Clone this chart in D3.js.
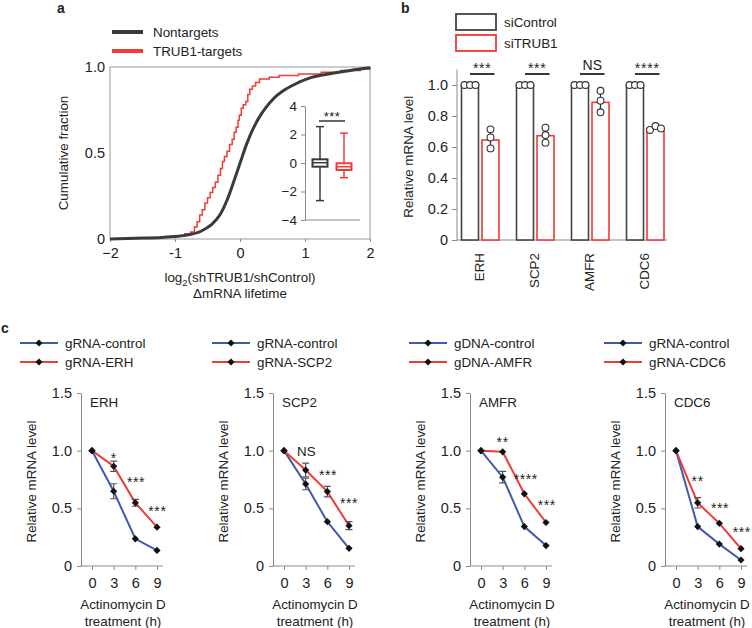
<!DOCTYPE html>
<html><head><meta charset="utf-8">
<script src="https://cdn.jsdelivr.net/npm/d3@7"></script>
<style>
body{margin:0;background:#fff;}
svg{display:block;font-family:"Liberation Sans",Arial,Helvetica,sans-serif;}
text{fill:#222;}
</style></head><body>
<svg id="c" width="752" height="628"></svg>
<script>
// ---------- Panel a data ----------
const aXTicks = [-2, -1, 0, 1, 2];
const aXTickLabels = ["\u22122", "-1", "0", "1", "2"];
const aYTicks = [0, 0.5, 1];
const aYTickLabels = ["0", "0.5", "1.0"];
const nontargetCDF = [[-2,0],[-1.6,0.004],[-1.2,0.009],[-1,0.014],[-0.8,0.024],[-0.6,0.045],[-0.45,0.08],[-0.3,0.145],[-0.2,0.225],[-0.1,0.33],[0,0.44],[0.1,0.55],[0.2,0.64],[0.3,0.71],[0.4,0.765],[0.5,0.81],[0.7,0.87],[0.9,0.91],[1.1,0.94],[1.4,0.962],[1.7,0.98],[2,0.995]];
const trub1CDF = [[-0.96,0.02],[-0.85,0.03],[-0.76,0.04],[-0.70,0.07],[-0.66,0.10],[-0.62,0.14],[-0.58,0.17],[-0.54,0.21],[-0.50,0.24],[-0.46,0.27],[-0.42,0.30],[-0.38,0.33],[-0.34,0.37],[-0.30,0.41],[-0.27,0.45],[-0.24,0.48],[-0.20,0.51],[-0.16,0.55],[-0.12,0.58],[-0.09,0.62],[-0.06,0.65],[-0.03,0.69],[-0.01,0.72],[0.02,0.76],[0.05,0.78],[0.09,0.80],[0.12,0.84],[0.15,0.87],[0.19,0.89],[0.24,0.91],[0.30,0.93],[0.45,0.94],[0.60,0.95],[0.90,0.96],[1.25,0.97],[1.55,0.98],[1.85,0.99],[2.0,1.0]];
const aLegend = ["Nontargets", "TRUB1-targets"];
const insetTicks = [-4, -2, 0, 2, 4];
const insetTickLabels = ["\u22124", "\u22122", "0", "2", "4"];
const insetBoxes = [
  {name:"Nontargets", lo:-2.64, q1:-0.26, med:0.02, q3:0.26, hi:2.55},
  {name:"TRUB1-targets", lo:-1.03, q1:-0.49, med:-0.26, q3:-0.02, hi:2.1}
];
const insetSig = "***";

// ---------- Panel b data ----------
const bGenes = ["ERH", "SCP2", "AMFR", "CDC6"];
const bConds = ["siControl", "siTRUB1"];
const bCtrlMean = [1, 1, 1, 1];
const bTrubMean = [0.645, 0.673, 0.888, 0.72];
const bCtrlReps = [[1,1,1],[1,1,1],[1,1,1],[1,1,1]];
const bTrubReps = [[0.714,0.662,0.591],[0.725,0.677,0.628],[0.963,0.899,0.824],[0.71,0.735,0.72]];
const bSig = ["***", "***", "NS", "****"];
const bYTicks = [0, 0.2, 0.4, 0.6, 0.8, 1.0];
const bYTickLabels = ["0", "0.2", "0.4", "0.6", "0.8", "1.0"];

// ---------- Panel c data ----------
const cGenes = ["ERH", "SCP2", "AMFR", "CDC6"];
const cTimes = [0, 3, 6, 9];
const cLegends = [["gRNA-control","gRNA-ERH"],["gRNA-control","gRNA-SCP2"],["gDNA-control","gDNA-AMFR"],["gRNA-control","gRNA-CDC6"]];
const cCtrl = [[1,0.648,0.236,0.135],[1,0.711,0.384,0.153],[1,0.77,0.342,0.177],[1,0.342,0.19,0.052]];
const cKD   = [[1,0.865,0.548,0.337],[1,0.832,0.645,0.35],[1,0.99,0.626,0.377],[1,0.548,0.37,0.15]];
const cCtrlErr = [[0,0.065,0.012,0.01],[0,0.05,0.012,0.01],[0,0.05,0.012,0.01],[0,0.012,0.012,0.01]];
const cKDErr   = [[0,0.045,0.03,0.012],[0,0.06,0.045,0.035],[0,0.012,0.012,0.012],[0,0.045,0.012,0.012]];
const cSig = [
  [[3,0.95,"*"],[6.1,0.74,"***"],[9.05,0.49,"***"]],
  [[3.1,1.0,"NS"],[6.1,0.80,"***"],[9,0.56,"***"]],
  [[3,1.09,"**"],[6.2,0.77,"****"],[9.1,0.54,"***"]],
  [[3,0.75,"**"],[6.1,0.52,"***"],[9.1,0.31,"***"]]
];
const cYTicks = [0, 0.5, 1.0, 1.5];
const cYTickLabels = ["0", "0.5", "1.0", "1.5"];

// ---------- styles ----------
const RED = "#ee3b36", DARK = "#3a3a3a", AX = "#8a8a8a", BLUE = "#3f5bab";
const FS = 13.4, TFS = 14.5;

const svg = d3.select("#c");

function styleAxis(g){
  g.selectAll(".domain").attr("stroke", AX);
  g.selectAll(".tick line").attr("stroke", AX);
  g.selectAll(".tick text").attr("fill", "#222").style("font-size", TFS + "px").style("font-family", "inherit");
}

// ================= Panel a =================
(function(){
  const x = d3.scaleLinear().domain([-2, 2]).range([110, 370]);
  const y = d3.scaleLinear().domain([0, 1]).range([239, 67]);
  const g = svg.append("g");
  g.append("text").attr("x", 57).attr("y", 13).text("a").style("font-weight", "bold").style("font-size", "14px");
  // frame
  g.append("rect").attr("x", x(-2)).attr("y", y(1)).attr("width", x(2) - x(-2)).attr("height", y(0) - y(1))
    .attr("fill", "none").attr("stroke", "#9a9a9a").attr("stroke-width", 1);
  const xa = g.append("g").attr("transform", `translate(0,${y(0)})`)
    .call(d3.axisBottom(x).tickValues(aXTicks).tickFormat((d, i) => aXTickLabels[i]).tickSize(3).tickPadding(6));
  xa.select(".domain").remove(); styleAxis(xa);
  const ya = g.append("g").attr("transform", `translate(${x(-2)},0)`)
    .call(d3.axisLeft(y).tickValues(aYTicks).tickFormat((d, i) => aYTickLabels[i]).tickSize(0).tickPadding(5));
  ya.select(".domain").remove(); styleAxis(ya);
  // curves
  const line = d3.line().x(d => x(d[0])).y(d => y(d[1]));
  g.append("path").datum(trub1CDF).attr("d", line.curve(d3.curveStepAfter)).attr("fill", "none").attr("stroke", RED).attr("stroke-width", 1.5);
  g.append("path").datum(nontargetCDF).attr("d", d3.line().x(d => x(d[0])).y(d => y(d[1])).curve(d3.curveMonotoneX))
    .attr("fill", "none").attr("stroke", DARK).attr("stroke-width", 3);
  // labels
  g.append("text").attr("transform", `translate(68,${(y(0) + y(1)) / 2}) rotate(-90)`).attr("text-anchor", "middle")
    .style("font-size", FS + "px").text("Cumulative fraction");
  const xl = g.append("text").attr("x", 240).attr("y", 282).attr("text-anchor", "middle").style("font-size", FS + "px");
  xl.append("tspan").text("log");
  xl.append("tspan").text("2").attr("dy", 4).style("font-size", "9.5px");
  xl.append("tspan").text("(shTRUB1/shControl)").attr("dy", -4);
  g.append("text").attr("x", 240).attr("y", 298).attr("text-anchor", "middle").style("font-size", FS + "px").text("\u0394mRNA lifetime");
  // legend
  const lc = [DARK, RED];
  aLegend.forEach((t, i) => {
    const yy = 32 + i * 19;
    g.append("line").attr("x1", 112).attr("x2", 143).attr("y1", yy).attr("y2", yy).attr("stroke", lc[i]).attr("stroke-width", 4);
    g.append("text").attr("x", 153).attr("y", yy + 5).style("font-size", FS + "px").text(t);
  });
  // inset
  const yi = d3.scaleLinear().domain([-4, 4]).range([220, 106]);
  const xi = d3.scalePoint().domain(insetBoxes.map(d => d.name)).range([320, 344]);
  const yia = g.append("g").attr("transform", "translate(305,0)")
    .call(d3.axisLeft(yi).tickValues(insetTicks).tickFormat((d, i) => insetTickLabels[i]).tickSize(4).tickPadding(4).tickSizeOuter(0));
  styleAxis(yia);
  yia.selectAll(".tick text").style("font-size", "13.5px");
  g.append("line").attr("x1", 305).attr("x2", 360).attr("y1", yi(-4)).attr("y2", yi(-4)).attr("stroke", AX);
  const bc = [DARK, RED];
  insetBoxes.forEach((b, i) => {
    const cx = xi(b.name), col = bc[i];
    const gg = g.append("g").attr("stroke", col).attr("fill", "none").attr("stroke-width", 1.5);
    gg.append("line").attr("x1", cx).attr("x2", cx).attr("y1", yi(b.hi)).attr("y2", yi(b.q3));
    gg.append("line").attr("x1", cx).attr("x2", cx).attr("y1", yi(b.q1)).attr("y2", yi(b.lo));
    gg.append("line").attr("x1", cx - 4).attr("x2", cx + 4).attr("y1", yi(b.hi)).attr("y2", yi(b.hi));
    gg.append("line").attr("x1", cx - 4).attr("x2", cx + 4).attr("y1", yi(b.lo)).attr("y2", yi(b.lo));
    gg.append("rect").attr("x", cx - 7.5).attr("width", 15).attr("y", yi(b.q3)).attr("height", yi(b.q1) - yi(b.q3)).attr("fill", "#fff").attr("stroke-width", 2);
    gg.append("line").attr("x1", cx - 7.5).attr("x2", cx + 7.5).attr("y1", yi(b.med)).attr("y2", yi(b.med)).attr("stroke-width", 1.5);
  });
  g.append("line").attr("x1", 319).attr("x2", 345).attr("y1", 121).attr("y2", 121).attr("stroke", "#333").attr("stroke-width", 1.5);
  g.append("text").attr("x", 332).attr("y", 121).attr("text-anchor", "middle").style("font-size", "13px").style("letter-spacing", "0.5px").text(insetSig);
})();

// ================= Panel b =================
(function(){
  const g = svg.append("g");
  g.append("text").attr("x", 401).attr("y", 13).text("b").style("font-weight", "bold").style("font-size", "14px");
  const y = d3.scaleLinear().domain([0, 1]).range([240, 85]);
  const x0 = d3.scaleBand().domain(bGenes).range([452.5, 672.5]);
  const x1 = d3.scalePoint().domain(bConds).range([-10, 10.5]);
  const bw = 17;
  // y axis
  const ya = g.append("g").attr("transform", "translate(457,0)")
    .call(d3.axisLeft(y).tickValues(bYTicks).tickFormat((d, i) => bYTickLabels[i]).tickSize(5).tickPadding(4).tickSizeOuter(0));
  styleAxis(ya);
  ya.select(".domain").attr("d", `M0,${y(0)}V${y(1.1)}`);
  g.append("line").attr("x1", 457).attr("x2", 667).attr("y1", y(0)).attr("y2", y(0)).attr("stroke", AX);
  g.append("text").attr("transform", `translate(413,${(y(0) + y(1.1)) / 2 + 2}) rotate(-90)`).attr("text-anchor", "middle")
    .style("font-size", FS + "px").text("Relative mRNA level");
  const means = [bCtrlMean, bTrubMean], reps = [bCtrlReps, bTrubReps], cols = ["#444", RED];
  bGenes.forEach((gene, gi) => {
    const gc = x0(gene) + x0.bandwidth() / 2;
    bConds.forEach((cond, ci) => {
      const cx = gc + x1(cond);
      const m = means[ci][gi];
      g.append("rect").attr("x", cx - bw / 2).attr("width", bw).attr("y", y(m)).attr("height", y(0) - y(m))
        .attr("fill", "#fff").attr("stroke", cols[ci]).attr("stroke-width", 1.6);
    });
  });
  bGenes.forEach((gene, gi) => {
    const gc = x0(gene) + x0.bandwidth() / 2;
    bConds.forEach((cond, ci) => {
      const cx = gc + x1(cond);
      const r = reps[ci][gi];
      const py = r.map(v => y(v));
      const spread = d3.max(py) - d3.min(py) < 7;
      if (!spread) {
        g.append("line").attr("x1", cx).attr("x2", cx).attr("y1", d3.min(py)).attr("y2", d3.max(py)).attr("stroke", "#333").attr("stroke-width", 1.3);
      }
      r.forEach((v, k) => {
        const dx = spread ? (k - 1) * 5.5 : 0;
        g.append("circle").attr("cx", cx + dx).attr("cy", y(v)).attr("r", 3.4)
          .attr("fill", "#fff").attr("stroke", "#333").attr("stroke-width", 1.1);
      });
    });
    // significance
    const xa = gc + x1("siControl"), xb = gc + x1("siTRUB1") + 4;
    g.append("line").attr("x1", xa).attr("x2", xb).attr("y1", 74).attr("y2", 74).attr("stroke", "#222").attr("stroke-width", 1.8);
    const s = bSig[gi];
    if (s === "NS") {
      g.append("text").attr("x", (xa + xb) / 2).attr("y", 70).attr("text-anchor", "middle").style("font-size", "14px").text(s);
    } else {
      g.append("text").attr("x", (xa + xb) / 2).attr("y", 73).attr("text-anchor", "middle").style("font-size", "14px").style("letter-spacing", "0.8px").text(s);
    }
    // category label
    g.append("text").attr("transform", `translate(${gc + 4},253) rotate(-90)`).attr("text-anchor", "end")
      .style("font-size", FS + "px").text(gene);
  });
  // legend
  bConds.forEach((c, i) => {
    const yy = 14 + i * 21;
    g.append("rect").attr("x", 456).attr("y", yy).attr("width", 40).attr("height", 16).attr("fill", "#fff")
      .attr("stroke", cols[i]).attr("stroke-width", 1.8);
    g.append("text").attr("x", 504).attr("y", yy + 13).style("font-size", FS + "px").text(c);
  });
})();

// ================= Panel c =================
(function(){
  const g = svg.append("g");
  g.append("text").attr("x", 1).attr("y", 333).text("c").style("font-weight", "bold").style("font-size", "14px");
  const origins = [81, 273, 470, 665];
  const diamond = d3.symbol().type(d3.symbolSquare).size(26);
  cGenes.forEach((gene, gi) => {
    const ox = origins[gi];
    const x = d3.scaleLinear().domain([0, 9]).range([ox + 11, ox + 76]);
    const y = d3.scaleLinear().domain([0, 1.5]).range([566, 393]);
    const sg = g.append("g");
    const ya = sg.append("g").attr("transform", `translate(${ox},0)`)
      .call(d3.axisLeft(y).tickValues(cYTicks).tickFormat((d, i) => cYTickLabels[i]).tickSize(4).tickPadding(5).tickSizeOuter(0));
    styleAxis(ya);
    const xa = sg.append("g").attr("transform", `translate(0,${y(0)})`)
      .call(d3.axisBottom(x).tickValues(cTimes).tickSize(4).tickPadding(8).tickSizeOuter(0));
    styleAxis(xa);
    xa.select(".domain").attr("d", `M${ox},0H${ox + 82}`);
    // axis labels
    sg.append("text").attr("transform", `translate(${ox - 45},${(y(0) + y(1.5)) / 2 + 2}) rotate(-90)`).attr("text-anchor", "middle")
      .style("font-size", FS + "px").text("Relative mRNA level");
    sg.append("text").attr("x", ox + 42).attr("y", 609).attr("text-anchor", "middle").style("font-size", FS + "px").text("Actinomycin D");
    sg.append("text").attr("x", ox + 42).attr("y", 626).attr("text-anchor", "middle").style("font-size", FS + "px").text("treatment (h)");
    sg.append("text").attr("x", ox + 9).attr("y", 407).style("font-size", FS + "px").text(gene);
    // lines
    const line = d3.line().x((d, i) => x(cTimes[i])).y(d => y(d));
    const series = [[cCtrl[gi], cCtrlErr[gi], BLUE], [cKD[gi], cKDErr[gi], RED]];
    series.forEach(([vals, errs, col]) => {
      sg.append("path").datum(vals).attr("d", line).attr("fill", "none").attr("stroke", col).attr("stroke-width", 2);
    });
    series.forEach(([vals, errs, col]) => {
      vals.forEach((v, i) => {
        const e = errs[i];
        if (e > 0.015) {
          const xx = x(cTimes[i]);
          sg.append("path").attr("d", `M${xx},${y(v + e)}V${y(v - e)}M${xx - 3.5},${y(v + e)}H${xx + 3.5}M${xx - 3.5},${y(v - e)}H${xx + 3.5}`)
            .attr("stroke", "#555").attr("stroke-width", 1.2).attr("fill", "none");
        }
      });
    });
    series.forEach(([vals]) => {
      vals.forEach((v, i) => {
        sg.append("path").attr("d", diamond).attr("transform", `translate(${x(cTimes[i])},${y(v)}) rotate(45)`).attr("fill", "#111");
      });
    });
    // significance
    cSig[gi].forEach(([t, v, s]) => {
      if (s === "NS") {
        sg.append("text").attr("x", x(t)).attr("y", y(v) + 5).attr("text-anchor", "middle").style("font-size", FS + "px").text(s);
      } else {
        sg.append("text").attr("x", x(t)).attr("y", y(v) + 6.5).attr("text-anchor", "middle").style("font-size", "14px").style("letter-spacing", "0.6px").text(s);
      }
    });
    // legend
    const lcols = [BLUE, RED];
    cLegends[gi].forEach((lab, i) => {
      const yy = 343 + i * 19;
      sg.append("line").attr("x1", ox - 61).attr("x2", ox - 23).attr("y1", yy).attr("y2", yy).attr("stroke", lcols[i]).attr("stroke-width", 2);
      sg.append("path").attr("d", diamond).attr("transform", `translate(${ox - 42},${yy}) rotate(45)`).attr("fill", "#111");
      sg.append("text").attr("x", ox - 16).attr("y", yy + 5).style("font-size", FS + "px").text(lab);
    });
  });
})();
</script>
</body></html>
